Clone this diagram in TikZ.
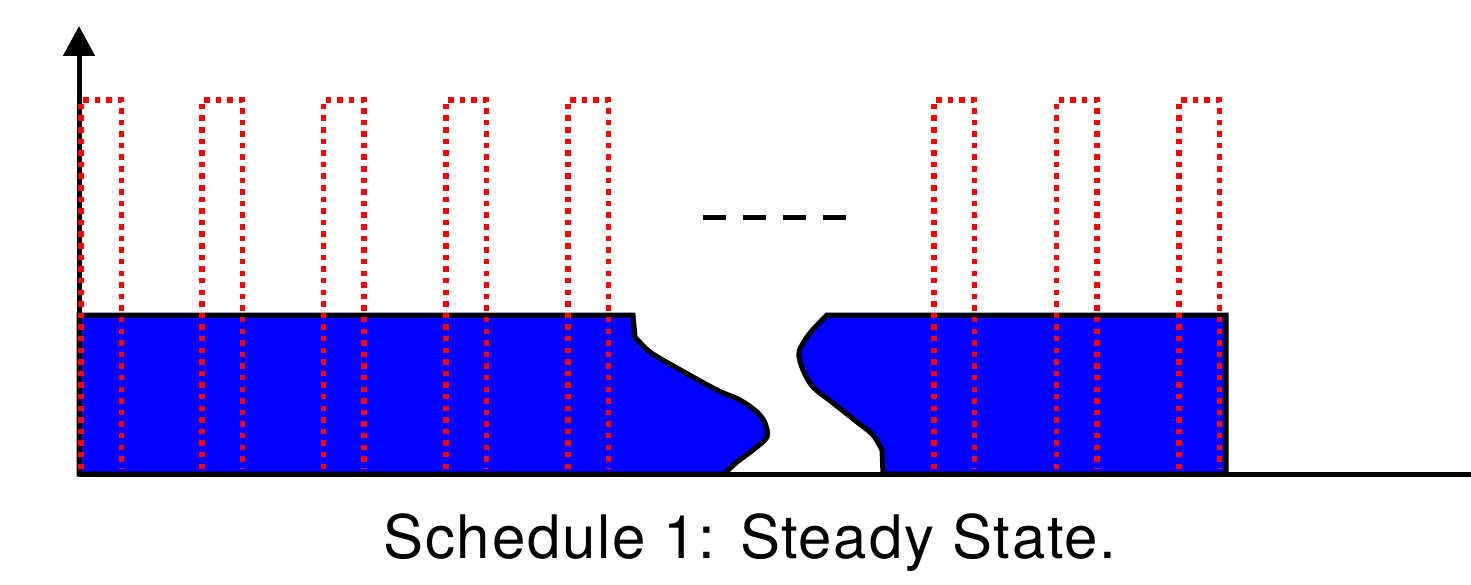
\documentclass[tikz,border=0pt]{standalone}
\usepackage{fontspec}
\setmainfont{TeX Gyre Heros}
\newfontfamily\capfont[LetterSpace=2.8]{TeX Gyre Heros}
\usetikzlibrary{arrows.meta}
\tikzset{
  outline/.style={line width=5pt, line join=miter, draw=black},
  level/.style={outline, fill=blue},
  pulse/.style={draw=red, line width=5.5pt, line cap=butt, dash pattern=on 5.5pt off 6.1pt},
  gap/.style={line width=5pt, dash pattern=on 23pt off 17pt},
  axisline/.style={line width=5pt, -{Triangle[length=30pt, width=31pt]}},
}
\begin{document}
\begin{tikzpicture}[x=1pt, y=-1pt]
  \useasboundingbox (0,0) rectangle (1471,585);

  % first filled block, ending in a torn edge
  \path[level] (79,474) -- (79,315) -- (633,315)
    -- plot[smooth, tension=0.5] coordinates {(635,337) (650,352) (677,368) (717,390) (740,400) (757,412) (765,423) (767,437) (753,450) (737,462) (724,474)}
    -- cycle;

  % second filled block, starting with a torn edge
  \path[level] (883,474)
    -- plot[smooth, tension=0.5] coordinates {(882,450) (873,435) (857,422) (833,403) (813,387) (803,370) (799,352) (810,333) (827,315)}
    -- (1226,315) -- (1226,474) -- cycle;

  % time axis and vertical axis
  \coordinate (origin) at (79,474);
  \coordinate (tend) at (1471,474);
  \coordinate (ytop) at (79,26);
  \draw[line width=5pt] (origin) -- (tend);
  \draw[axisline] (origin) -- (ytop);

  % gap marker between the two blocks
  \coordinate (g1) at (703,218);
  \coordinate (g2) at (848,218);
  \draw[gap] (g1) -- (g2);

  % dotted pulse train
  \foreach \px in {81,202,323.5,446,568,934,1056.5,1179}{
    \draw[pulse] (\px,469) -- (\px,100) -- ({\px+40.5},100) -- ({\px+40.5},469);
  }

  \node[anchor=base, font=\capfont\fontsize{60}{62}\selectfont, inner sep=0pt] (caption) at (750,558) {Schedule 1: Steady State.};
\end{tikzpicture}
\end{document}
